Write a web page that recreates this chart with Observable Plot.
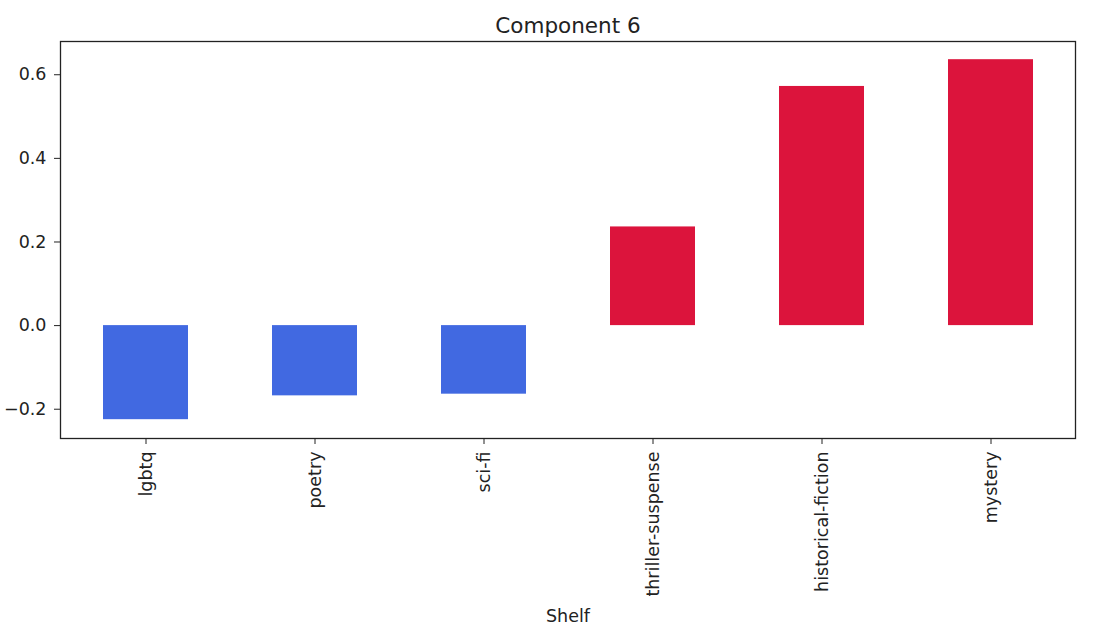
<!DOCTYPE html>
<html>
<head>
<meta charset="utf-8">
<script src="https://cdn.jsdelivr.net/npm/d3@7"></script>
<script src="https://cdn.jsdelivr.net/npm/@observablehq/plot@0.6"></script>
<style>
  html, body { margin: 0; padding: 0; background: #fff; overflow: hidden; }
  svg { font-family: "DejaVu Sans", sans-serif; }
</style>
</head>
<body>
<div id="chart"></div>
<script>
const shelves = ["lgbtq", "poetry", "sci-fi", "thriller-suspense", "historical-fiction", "mystery"];
const values = [-0.225, -0.168, -0.164, 0.236, 0.572, 0.636];
const yTicks = [-0.2, 0.0, 0.2, 0.4, 0.6];
const title = "Component 6";
const xLabel = "Shelf";
const negColor = "#4169E1";
const posColor = "#DC143C";

const data = shelves.map((s, i) => ({shelf: s, value: values[i]}));

const chart = Plot.plot({
  width: 1096,
  height: 637,
  marginTop: 41,
  marginLeft: 60,
  marginRight: 21,
  marginBottom: 199,
  style: {fontFamily: "DejaVu Sans, sans-serif", fontSize: "17.5px", color: "#222", background: "#fff"},
  x: {domain: shelves, paddingInner: 0.5, paddingOuter: 0.25, label: null},
  y: {domain: [-0.270, 0.6795], label: null},
  marks: [
    Plot.barY(data, {x: "shelf", y: "value", fill: d => d.value < 0 ? negColor : posColor}),
    Plot.frame({stroke: "#222", strokeWidth: 1.3}),
    Plot.axisY({ticks: yTicks, tickFormat: d3.format(".1f"), tickSize: 6, tickPadding: 8, fontSize: 17.5, label: null, stroke: "#222"}),
    Plot.axisX({tickRotate: -90, tickSize: 6, tickPadding: 7, fontSize: 17.5, label: null, stroke: "#222"}),
    Plot.text([title], {frameAnchor: "top", lineAnchor: "bottom", dy: -9, fontSize: 21.5, fill: "#222"}),
    Plot.text([xLabel], {frameAnchor: "bottom", lineAnchor: "middle", dy: 178, fontSize: 17.5, fill: "#222"})
  ]
});
document.getElementById("chart").appendChild(chart);
</script>
</body>
</html>
